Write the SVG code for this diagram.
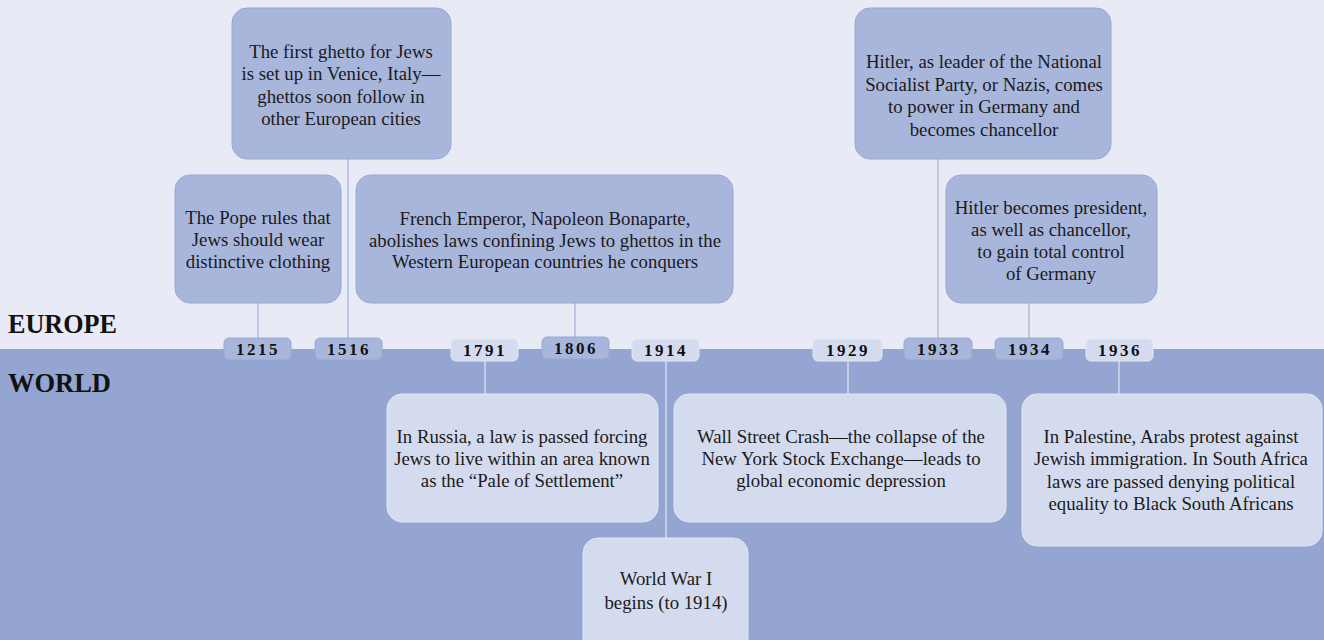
<svg xmlns="http://www.w3.org/2000/svg" width="1324" height="640" viewBox="0 0 1324 640">
<style>
.eu{fill:#a9b6dc;stroke:#97a8d4;stroke-width:1}
.wo{fill:#d5dbee;stroke:#e3e7f4;stroke-width:1}
.t{font-family:"Liberation Serif",serif;font-size:18.8px;fill:#1a1a1a;text-anchor:middle}
.yr{font-family:"Liberation Serif",serif;font-size:17px;font-weight:bold;letter-spacing:2.5px;fill:#111;text-anchor:middle}
.lbl{font-family:"Liberation Serif",serif;font-size:27px;font-weight:bold;fill:#111}
.ceu{stroke:#9fb0da;stroke-width:1.2;fill:none}
.cwo{stroke:#dfe4f3;stroke-width:1.2;fill:none}
</style>
<rect x="0" y="0" width="1324" height="349" fill="#e8ebf5"/>
<rect x="0" y="349" width="1324" height="291" fill="#93a5d0"/>
<text class="lbl" x="8" y="333" textLength="109" lengthAdjust="spacingAndGlyphs">EUROPE</text>
<text class="lbl" x="8" y="392" textLength="103" lengthAdjust="spacingAndGlyphs">WORLD</text>
<g id="connectors">
<line class="ceu" x1="258" y1="303" x2="258" y2="338"/>
<line class="ceu" x1="348" y1="159" x2="348" y2="338"/>
<line class="ceu" x1="575" y1="303" x2="575" y2="337"/>
<line class="ceu" x1="938" y1="159" x2="938" y2="338"/>
<line class="ceu" x1="1029" y1="303" x2="1029" y2="338"/>
<line class="cwo" x1="485" y1="361" x2="485" y2="394"/>
<line class="cwo" x1="666" y1="361" x2="666" y2="538"/>
<line class="cwo" x1="848" y1="361" x2="848" y2="394"/>
<line class="cwo" x1="1119" y1="361" x2="1119" y2="394"/>
</g>
<g id="years">
<g id="y1215"><rect class="eu" x="224" y="338" width="67" height="22" rx="5"/><text class="yr" x="258" y="355">1215</text></g>
<g id="y1516"><rect class="eu" x="315" y="338" width="67" height="22" rx="5"/><text class="yr" x="349" y="355">1516</text></g>
<g id="y1791"><rect class="wo" x="451" y="339" width="67" height="22" rx="5"/><text class="yr" x="485" y="356">1791</text></g>
<g id="y1806"><rect class="eu" x="542" y="337" width="67" height="22" rx="5"/><text class="yr" x="576" y="354">1806</text></g>
<g id="y1914"><rect class="wo" x="632" y="339" width="67" height="22" rx="5"/><text class="yr" x="666" y="356">1914</text></g>
<g id="y1929"><rect class="wo" x="813" y="339" width="69" height="22" rx="5"/><text class="yr" x="848" y="356">1929</text></g>
<g id="y1933"><rect class="eu" x="904" y="338" width="68" height="22" rx="5"/><text class="yr" x="939" y="355">1933</text></g>
<g id="y1934"><rect class="eu" x="995" y="338" width="68" height="22" rx="5"/><text class="yr" x="1030" y="355">1934</text></g>
<g id="y1936"><rect class="wo" x="1086" y="339" width="67" height="22" rx="5"/><text class="yr" x="1120" y="356">1936</text></g>
</g>
<g id="n1215"><rect class="eu" x="175" y="175" width="166" height="128" rx="15"/>
<text class="t" x="258" y="224">The Pope rules that</text><text class="t" x="258" y="246">Jews should wear</text><text class="t" x="258" y="268">distinctive clothing</text></g>
<g id="n1516"><rect class="eu" x="232" y="8" width="219" height="151" rx="15"/>
<text class="t" x="341" y="58">The first ghetto for Jews</text><text class="t" x="341" y="80">is set up in Venice, Italy—</text><text class="t" x="341" y="103">ghettos soon follow in</text><text class="t" x="341" y="125">other European cities</text></g>
<g id="n1806"><rect class="eu" x="356" y="175" width="377" height="128" rx="15"/>
<text class="t" x="545" y="225">French Emperor, Napoleon Bonaparte,</text><text class="t" x="545" y="247">abolishes laws confining Jews to ghettos in the</text><text class="t" x="545" y="268">Western European countries he conquers</text></g>
<g id="n1933"><rect class="eu" x="855" y="8" width="256" height="151" rx="15"/>
<text class="t" x="984" y="68">Hitler, as leader of the National</text><text class="t" x="984" y="91">Socialist Party, or Nazis, comes</text><text class="t" x="984" y="113">to power in Germany and</text><text class="t" x="984" y="136">becomes chancellor</text></g>
<g id="n1934"><rect class="eu" x="946" y="175" width="211" height="128" rx="15"/>
<text class="t" x="1051" y="214">Hitler becomes president,</text><text class="t" x="1051" y="236">as well as chancellor,</text><text class="t" x="1051" y="258">to gain total control</text><text class="t" x="1051" y="280">of Germany</text></g>
<g id="n1791"><rect class="wo" x="387" y="394" width="271" height="128" rx="15"/>
<text class="t" x="522" y="443">In Russia, a law is passed forcing</text><text class="t" x="522" y="465">Jews to live within an area known</text><text class="t" x="522" y="487">as the “Pale of Settlement”</text></g>
<g id="n1914"><rect class="wo" x="583" y="538" width="165" height="115" rx="15"/>
<text class="t" x="666" y="585">World War I</text><text class="t" x="666" y="609">begins (to 1914)</text></g>
<g id="n1929"><rect class="wo" x="674" y="394" width="332" height="128" rx="15"/>
<text class="t" x="841" y="443">Wall Street Crash—the collapse of the</text><text class="t" x="841" y="465">New York Stock Exchange—leads to</text><text class="t" x="841" y="487">global economic depression</text></g>
<g id="n1936"><rect class="wo" x="1022" y="394" width="300" height="152" rx="15"/>
<text class="t" x="1171" y="443">In Palestine, Arabs protest against</text><text class="t" x="1171" y="465">Jewish immigration. In South Africa</text><text class="t" x="1171" y="488">laws are passed denying political</text><text class="t" x="1171" y="510">equality to Black South Africans</text></g>
</svg>
